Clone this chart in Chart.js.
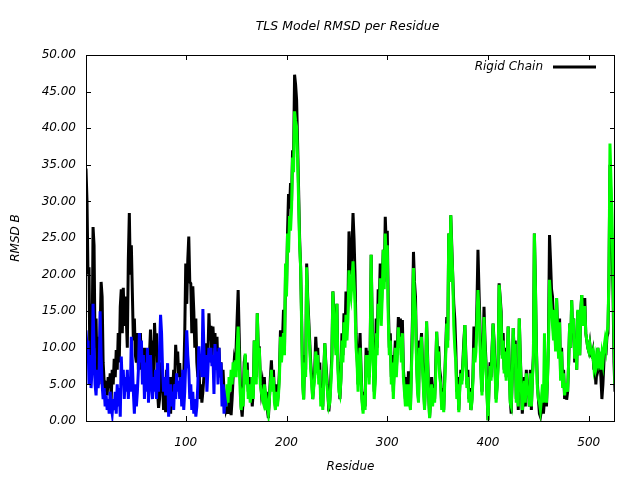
<!DOCTYPE html>
<html>
<head>
<meta charset="utf-8">
<script src="https://cdn.jsdelivr.net/npm/chart.js@4.4.1/dist/chart.umd.min.js"></script>
<style>
  html, body { margin: 0; padding: 0; background: #fff; }
  canvas { display: block; }
</style>
</head>
<body>
<canvas id="rmsd" width="640" height="480"></canvas>
<script>
// RMSD B per residue, rigid chain model (black)
const rigidChain = [
  34.5,30,20,21,5.5,16,9,26.5,24,10,
  14,6,11.5,5,12,19,17,8,5.5,4,
  5.5,3.5,6,4.5,6.5,3,7,5,8.5,6,
  9.7,7,12,8,15.6,18,12,18.2,13,17,
  14,10,22,28.4,20,24,17.6,11,14,9,
  8,12,7,10,12,7,9,6,10,6.5,
  8,5,7,9,12.5,8,11,6,13.4,10,
  12,4,1.8,3,6,8,5,1.5,6,1.2,
  7,5,6,3,1,6,4,7,5,10.4,
  8,9.5,6,7.9,5,6.5,4,6,12,21.5,
  16,22,25.2,19,18.8,12,18.4,15,10,14,
  8,6,9,3,5,2.5,4,6,8,10.6,
  7,9,14.7,11,13,8,12.9,10,12,8,
  11.5,7,10,6,8,5,7,4,3,1.5,
  2,1,4,2.5,0.8,3,6,8,7,10,
  14,17.9,12,6,2,0.6,3,8,9,6,
  8,4,6,3,5,2,4,11,8,6,
  14.7,10,10,6,4,5,3,6,2,4,
  1.5,0.4,3,6,8.3,5,7,4,2,5,
  2.5,4,7,12.4,9,11,15.2,10,20,18,
  25.7,31,29,32.5,30,37,36,47.3,46,43.9,
  38,31.6,25,21,14,6,3,9,7,21.5,
  17,14,11,8,6,3,5,7,11.5,9,
  10,6,8,3,5,2,7,10.6,8,6,
  4,1.3,3,6,9,17.7,15,13,10,16,
  8,5,3,6,12,9,14.7,11,17.7,13,
  16,25.9,22,20,24,28.4,25,20,12,9,
  5,9,12,7,3,1.5,4,2,10,8,
  9.6,6,10,22.7,14,9,4,6,14,10,
  18,16,21.5,15,19,23.4,19,27.9,24,26,
  16,10,12,6,9,4,8,11,7,10,
  14.2,11,14,9,13.8,7,5,3,6,2.5,
  6.8,4,1.7,8,14,23.1,19,17,9,5,
  3,11,10,12,8,5,2,6,13.6,9,
  4,0.5,3,6,2.5,5,3,7,12.2,9,
  10.2,7,6,2,4.5,1.5,6,10,14.2,11,
  25.6,20,28.1,24,19.7,16,14,10,4,6,
  1.5,5,7,5.5,8,11,13.1,9,5,7,
  3,4.5,1.5,3,6,12.9,9,11,16,23.4,
  18,13,7,4,9,15.6,11,8,4,0.1,
  5,8,6,10,13.3,11,7,3,5,8,
  18.8,17,15,9,12,7,10,6,9,12.9,
  8,3,1,6,12.7,9,11,3,7,1.5,
  14,9,5,1,3,6,2,7,4,5,
  2,7,1.5,6,9,25.6,19,10,5,3,
  1,0.6,1.5,4,1,3,5,2,6,11,
  25.4,22,18,17,12,15.2,10,16.8,13,9,
  14,6,10,5,7,3,5,2.9,4,8,
  13.3,10,16.5,12,14,8,11,7,15,12,
  9,15,17.2,13,14,16.8,12,11,10,9.5,
  10.5,9,8.8,9.5,7,8,5,7,10,8,
  9,6,3,5,8,10.5,9,11.5,12,19.7,
  35,30,24,18,8,4
];

// RMSD B per residue, TLS groups (blue = group 1, green = group 2)
const tlsGroups = [
  // group 1
  12.4,10,11,5,9,4.5,7,16,10,5,
  3.5,7,4.5,6,15,9,5,3,4.5,2,
  3.5,1.5,3,1,4,2,1,3,1.5,4,
  1,5,2,4.5,0.6,8.8,5,7,3,6,
  4,7,3,6,4,11.5,8,4,1,5,
  2,4,7,12,8,11,5,9,3,8,
  4,10,2.5,6,9,5,3,6,4,7,
  3,8,4,10,14.5,12,7,4,6,3.5,
  5,7.9,0.6,3,5,2,4,1.5,5,3,
  6.5,4,5.5,3,6,2,7,1.5,4,8,
  12.4,9,7,3,5,1.5,4,1,3,0.6,
  2,5,10.2,7,9,6,15.3,10,6,9,
  4,7,10,8,10,7.5,9,3.7,10.5,7,
  9.5,5,10,6,8,2,5,1,3,2,
  // group 2
  5,2.5,6,4,7,5,8,6,8.3,6,
  10,12.9,8,4,1.5,3,2,6,9.2,5,
  7,3,5,2.5,4,6,3,11,7,5,
  14.7,9,10,5,4,3,2.5,5,1.5,3,
  2,1,3,5,7,4,6,2.5,1.5,4,
  2,3.5,6,11.5,8,10,12,9,21.5,17,
  25.6,23,28,26,29,36,34,42.3,41,40.2,
  36,30,24,21,13,5,2.9,8,6,21,
  16,13,10,7,5,3,4.5,6,9.5,8,
  9,5,7,2,4.5,1.5,6,10.6,7.5,5,
  3.5,2,2.5,5,8,17.7,14,12,9,16,
  7,4,3.5,5.5,11,8,13.5,10,14.5,11,
  14,20.6,18,17,19,21.8,19,16,10,8,
  4,8,10,6,2.5,1,3.5,1.5,9,6,
  9,5,9,22.7,13,8,3,5,12,9,
  16,14,19.5,13,17,23.4,18,25.6,22,24,
  14,9,11,5,8,3,7,10,6,9,
  12.8,10,11.5,8,12,6,4,2,5,2,
  5,3,1.5,7,12,20.9,17,15,8,4,
  2.5,10,9,11.5,7,4,1.5,5,13.6,8,
  3.5,0.4,2.5,5,2,4.5,2.5,6,12.2,8,
  9.5,6,5,1.5,4,1.2,5,9,13.3,10,
  25.6,19,28.1,23,19.7,13,10,8,3,5,
  1.2,4.5,6.5,5,7.5,10,13.1,8,4.5,6,
  2.5,4,1.5,2.5,5.5,10,8,9.5,14,17.9,
  15,11,6,3.5,8,14.2,10,7,3.5,0.1,
  4.5,7.5,5.5,9.5,13.3,10,6.5,2.5,4.5,7.5,
  18.6,16.5,14,8.5,11,6.5,9.5,5.5,8.5,12.9,
  7.5,2.5,2,5.5,12.7,8.5,10.5,2.5,6.5,2,
  14,8.5,4.5,1.5,3,5.5,2.5,6.5,3.5,4.5,
  2,6.5,2,5.5,8.5,25.6,18.5,9.5,4.5,3,
  2.5,1.5,3,5,2.5,12,4.5,2.5,5.5,10,
  19.3,17,15,13,11,15.2,9.5,16.8,12.5,8.5,
  13.5,5.5,9.5,4.5,6.5,3.5,5,5,4,8,
  13.3,10,16.5,12,14,8.5,11,7,15.2,12,
  9,15,17.2,13,14,15.7,12,11,10,9.5,
  10.5,9.5,9,9.5,7.5,8.5,7,7.5,10,8.5,
  9.5,7,9,8,10,11,10,12,13,19.7,
  37.9,33,28,20,12,5
];

const group1End = 140;   // last residue of TLS group 1
const xTicks = [100, 200, 300, 400, 500];
const yTicks = [0, 5, 10, 15, 20, 25, 30, 35, 40, 45, 50];

const residues = rigidChain.map((_, i) => i + 1);
const points = (vals, from, to) =>
  residues.filter(r => r >= from && r <= to).map(r => ({ x: r, y: vals[r - 1] }));

Chart.defaults.font.family = '"DejaVu Sans", sans-serif';
Chart.defaults.font.size = 12;
Chart.defaults.font.style = 'italic';
Chart.defaults.color = '#000';

// box, inward mirrored tics, title and key in gnuplot style
const gnuFrame = {
  id: 'gnuFrame',
  afterDraw(chart) {
    const { ctx, chartArea: a, scales: { x, y } } = chart;
    ctx.save();
    ctx.strokeStyle = '#000';
    ctx.lineWidth = 1;
    ctx.strokeRect(a.left + 0.5, a.top + 0.5, a.right - a.left - 1, a.bottom - a.top);
    ctx.beginPath();
    xTicks.forEach(v => {
      const px = Math.round(x.getPixelForValue(v)) + 0.5;
      ctx.moveTo(px, a.bottom); ctx.lineTo(px, a.bottom - 5);
      ctx.moveTo(px, a.top); ctx.lineTo(px, a.top + 5);
    });
    yTicks.forEach(v => {
      const py = Math.round(y.getPixelForValue(v)) + 0.5;
      ctx.moveTo(a.left, py); ctx.lineTo(a.left + 5, py);
      ctx.moveTo(a.right, py); ctx.lineTo(a.right - 5, py);
    });
    ctx.stroke();

    ctx.fillStyle = '#000';
    ctx.textBaseline = 'middle';
    ctx.textAlign = 'center';
    ctx.font = 'italic 12.5px "DejaVu Sans"';
    ctx.fillText('TLS Model RMSD per Residue', (a.left + a.right) / 2 - 3, 27);

    ctx.font = 'italic 12px "DejaVu Sans"';
    ctx.textAlign = 'right';
    ctx.fillText('Rigid Chain', a.right - 72, a.top + 12);
    ctx.lineWidth = 3;
    ctx.beginPath();
    ctx.moveTo(a.right - 62, a.top + 12);
    ctx.lineTo(a.right - 19, a.top + 12);
    ctx.stroke();
    ctx.restore();
  }
};

new Chart(document.getElementById('rmsd'), {
  type: 'line',
  data: {
    datasets: [
      {
        label: 'Rigid Chain',
        data: points(rigidChain, 1, residues.length),
        borderColor: '#000000',
        borderWidth: 3,
        order: 2
      },
      {
        label: 'TLS group 1',
        data: points(tlsGroups, 1, group1End),
        borderColor: '#0000ff',
        borderWidth: 3,
        order: 1
      },
      {
        label: 'TLS group 2',
        data: points(tlsGroups, group1End, residues.length),
        borderColor: '#00ff00',
        borderWidth: 3,
        order: 1
      }
    ]
  },
  options: {
    responsive: false,
    animation: false,
    devicePixelRatio: 1,
    layout: { padding: { top: 55, right: 25, left: 0, bottom: 0 } },
    elements: { point: { radius: 0 }, line: { tension: 0 } },
    plugins: {
      legend: { display: false },
      tooltip: { enabled: false },
      title: { display: false }
    },
    scales: {
      x: {
        type: 'linear',
        min: 1,
        max: 526,
        afterFit: s => { s.height = 59; },
        afterBuildTicks: s => { s.ticks = xTicks.map(v => ({ value: v })); },
        grid: { display: false, drawTicks: false },
        border: { display: false },
        ticks: { padding: 15, maxRotation: 0 },
        title: { display: true, text: 'Residue', padding: { top: 0, bottom: 6 } }
      },
      y: {
        min: 0,
        max: 50,
        afterFit: s => { s.width = 86; },
        afterBuildTicks: s => { s.ticks = yTicks.map(v => ({ value: v })); },
        grid: { display: false, drawTicks: false },
        border: { display: false },
        ticks: { padding: 10, callback: v => v.toFixed(2) },
        title: { display: true, text: 'RMSD B', padding: { top: 9, bottom: 0 } }
      }
    }
  },
  plugins: [gnuFrame]
});
</script>
</body>
</html>
